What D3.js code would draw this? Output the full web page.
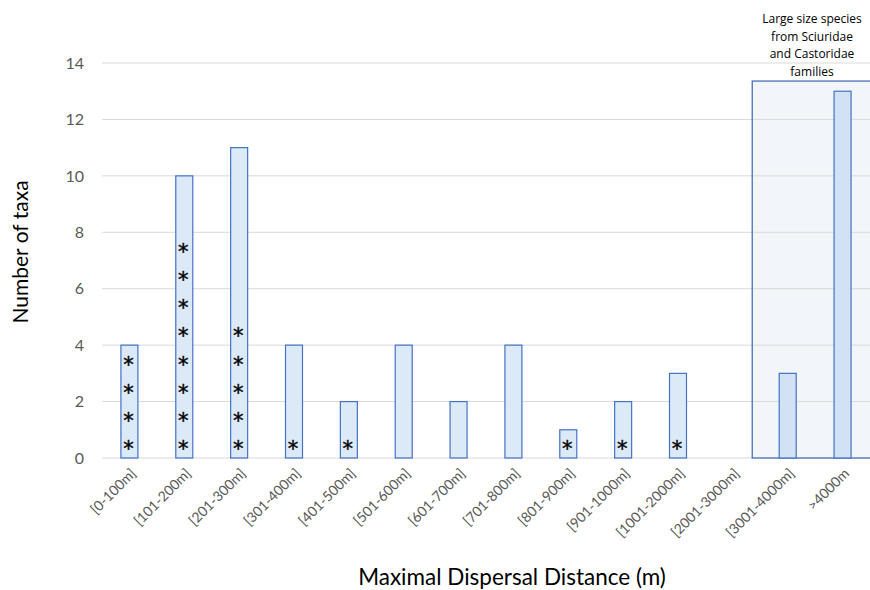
<!DOCTYPE html>
<html><head><meta charset="utf-8">
<script src="https://cdn.jsdelivr.net/npm/d3@7"></script>
<style>body{margin:0;background:#fff}</style>
</head><body>
<svg id="c" width="870" height="590"></svg>
<script>
const categories = ["[0-100m]","[101-200m]","[201-300m]","[301-400m]","[401-500m]","[501-600m]","[601-700m]","[701-800m]","[801-900m]","[901-1000m]","[1001-2000m]","[2001-3000m]","[3001-4000m]",">4000m"];
const values = [4,10,11,4,2,4,2,4,1,2,3,0,3,13];
const asterisks = [4,8,5,1,1,0,0,0,1,1,1,0,0,0];
const yTicks = [0,2,4,6,8,10,12,14];
const highlighted = ["[3001-4000m]",">4000m"];
const boxTop = 13.36;
const noteLines = ["Large size species","from Sciuridae","and Castoridae","families"];

const svg = d3.select("#c");
const font = "Lato, 'Open Sans', sans-serif";
const x = d3.scaleBand().domain(categories).range([102,870]).paddingInner(0.69).paddingOuter(0.345);
const y = d3.scaleLinear().domain([0,14]).range([458,63]);

// gridlines
svg.append("g").selectAll("line").data(yTicks).join("line")
  .attr("x1",102).attr("x2",870).attr("y1",d=>y(d)).attr("y2",d=>y(d))
  .attr("stroke","#d9d9d9").attr("stroke-width",1);

// y tick labels
svg.append("g").selectAll("text").data(yTicks).join("text")
  .attr("x",84).attr("y",d=>y(d)).attr("dy","0.36em").attr("text-anchor","end")
  .attr("font-family",font).attr("font-size",16).attr("fill","#595959").text(d=>d);

// highlight box
const boxX = x(highlighted[0]) - 27;
svg.append("rect")
  .attr("x", boxX).attr("y", y(boxTop))
  .attr("width", 870 - boxX + 2).attr("height", y(0)-y(boxTop))
  .attr("fill","#f2f6fb").attr("stroke","#3b64ad").attr("stroke-width",1.2);

svg.append("g").selectAll("line").data(yTicks.filter(d=>d>0 && d<boxTop)).join("line")
  .attr("x1",boxX+1).attr("x2",870).attr("y1",d=>y(d)).attr("y2",d=>y(d))
  .attr("stroke","#d9d9d9").attr("stroke-width",1);

// bars
svg.append("g").selectAll("rect").data(categories).join("rect")
  .attr("x",d=>x(d)).attr("width",x.bandwidth())
  .attr("y",(d,i)=>y(values[i])).attr("height",(d,i)=>y(0)-y(values[i]))
  .attr("fill",d=>highlighted.includes(d)?"#d2e2f4":"#dce9f7")
  .attr("stroke","#4472c4").attr("stroke-width",1.2)
  .attr("display",(d,i)=>values[i]>0?null:"none");

// asterisks
const stars = [];
categories.forEach((c,i)=>{ for(let k=0;k<asterisks[i];k++) stars.push({c,k}); });
svg.append("g").selectAll("text").data(stars).join("text")
  .attr("x",d=>x(d.c)+x.bandwidth()/2-1).attr("y",d=>y(d.k+0.45)+11)
  .attr("text-anchor","middle").attr("font-family","'DejaVu Sans', sans-serif")
  .attr("font-size",21).attr("fill","#000").attr("stroke","#000").attr("stroke-width",0.4).text("*");

// x tick labels
svg.append("g").selectAll("text").data(categories).join("text")
  .attr("transform",d=>`translate(${x(d)+x.bandwidth()/2+4},${471}) rotate(-45)`)
  .attr("text-anchor","end").attr("dy","0.35em")
  .attr("font-family",font).attr("font-size",14).attr("fill","#595959").text(d=>d);

// axis titles
svg.append("text").attr("transform","translate(28,252) rotate(-90)")
  .attr("text-anchor","middle").attr("font-family",font).attr("font-size",21).attr("fill","#000")
  .text("Number of taxa");
svg.append("text").attr("x",512).attr("y",585).attr("text-anchor","middle")
  .attr("font-family",font).attr("font-size",22.5).attr("fill","#000")
  .text("Maximal Dispersal Distance (m)");

// note
svg.append("g").selectAll("text").data(noteLines).join("text")
  .attr("x",812).attr("y",(d,i)=>23+i*17.5).attr("text-anchor","middle")
  .attr("font-family","'Open Sans', sans-serif").attr("font-size",12).attr("fill","#000").text(d=>d);
</script>
</body></html>
